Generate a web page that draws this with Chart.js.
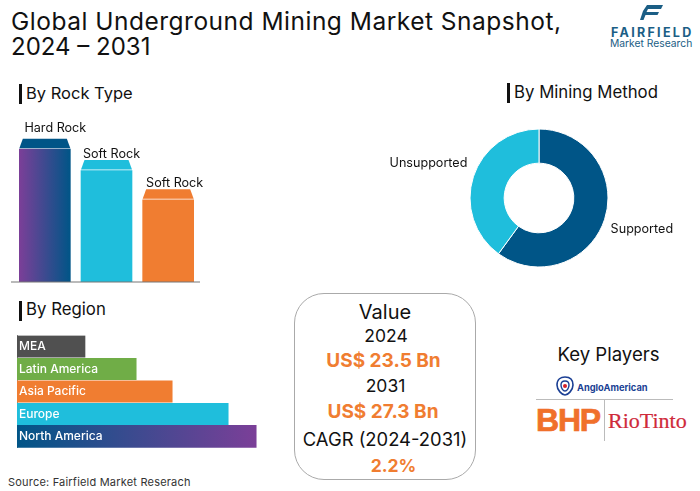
<!DOCTYPE html>
<html>
<head>
<meta charset="utf-8">
<script src="https://cdn.jsdelivr.net/npm/chart.js@4"></script>
<style>
  html, body { margin: 0; padding: 0; background: #fff; }
  #page { position: relative; width: 700px; height: 491px; overflow: hidden; font-family: Inter, sans-serif; color: #111; }
  #page canvas { position: absolute; }
  .t { position: absolute; white-space: nowrap; line-height: 1; }
  .c { transform: translateX(-50%); }
  .mark { position: absolute; width: 3px; height: 20px; background: #111; }
  .org { color: #F07D31; font-weight: 700; }
  #box { position: absolute; left: 294px; top: 293px; width: 180px; height: 185px; border: 1px solid #aaa; border-radius: 30px; }
  .rule { position: absolute; background: #bbb; }
</style>
</head>
<body>
<div id="page">
  <div class="t" style="left:11px;top:9px;font-size:24.5px;letter-spacing:.5px">Global Underground Mining Market Snapshot,</div>
  <div class="t" style="left:11px;top:35px;font-size:24px">2024 – 2031</div>

  <svg style="position:absolute;left:640px;top:5px" width="24" height="19" viewBox="0 0 24 19">
    <path d="M7 0H23L21 4H8L6.5 7H19L17.5 10H5.5L3.5 15H0L3 6Z" fill="#1B5E85"/>
  </svg>
  <div class="t" style="left:611px;top:27px;font-size:12.5px;font-weight:700;letter-spacing:2.3px;color:#1B5E85">FAIRFIELD</div>
  <div class="t" style="left:610px;top:38px;font-size:10.3px;color:#1B5E85">Market Research</div>

  <div class="mark" style="left:19px;top:84px"></div>
  <div class="t" style="left:26px;top:85px;font-size:16.5px">By Rock Type</div>
  <div class="mark" style="left:507px;top:83px"></div>
  <div class="t" style="left:514px;top:84px;font-size:16.8px">By Mining Method</div>
  <div class="mark" style="left:19px;top:301px"></div>
  <div class="t" style="left:26px;top:301px;font-size:16.8px">By Region</div>

  <canvas id="rockChart" style="left:11px;top:100px;width:200px;height:183px"></canvas>
  <canvas id="methodChart" style="left:380px;top:119px;width:318px;height:158px"></canvas>
  <canvas id="regionChart" style="left:16px;top:326px;width:241px;height:134px"></canvas>

  <div id="box"></div>
  <div class="t c" style="left:385px;top:302px;font-size:20px">Value</div>
  <div class="t c" style="left:386px;top:327px;font-size:17.5px">2024</div>
  <div class="t c org" style="left:383.5px;top:351px;font-size:19px">US$ 23.5 Bn</div>
  <div class="t c" style="left:385.5px;top:377px;font-size:17.5px">2031</div>
  <div class="t c org" style="left:383px;top:402px;font-size:19px">US$ 27.3 Bn</div>
  <div class="t c" style="left:385px;top:430px;font-size:18.4px">CAGR (2024-2031)</div>
  <div class="t c org" style="left:393.5px;top:457px;font-size:17.5px">2.2%</div>

  <div class="t c" style="left:608.5px;top:345px;font-size:18.6px">Key Players</div>
  <svg style="position:absolute;left:555px;top:376px" width="20" height="20" viewBox="0 0 20 20">
    <path d="M10 1C14 1 18 3 18 9C18 14 13 19 10 19C7 19 2 14 2 9C2 3 6 1 10 1Z" fill="none" stroke="#1B3F94" stroke-width="1.6"/>
    <path d="M10 5C12 5 14 6 14 9C14 12 12 15 10 15C8 15 6 12 6 9C6 6 8 5 10 5Z" fill="none" stroke="#1B3F94" stroke-width="1.4"/>
    <circle cx="10" cy="10" r="2" fill="#D8232A"/>
  </svg>
  <div class="t" style="left:577px;top:383px;font-size:9.3px;font-weight:700;color:#1B3F94">AngloAmerican</div>
  <div class="rule" style="left:536px;top:399px;width:137px;height:1px"></div>
  <div class="rule" style="left:604px;top:400px;width:1px;height:41px"></div>
  <div class="t" style="left:536px;top:404px;font-family:'Liberation Sans';font-size:32px;font-weight:700;color:#F0702B;letter-spacing:-1.2px;-webkit-text-stroke:.7px #F0702B">BHP</div>
  <div class="t" style="left:608px;top:410px;font-family:'Liberation Serif';font-size:22px;color:#CF2A3A;-webkit-text-stroke:.2px #CF2A3A">RioTinto</div>

  <div class="t" style="left:8px;top:477px;font-size:11px;color:#333;letter-spacing:.2px">Source: Fairfield Market Reserach</div>
</div>

<script>
// values
const rockTypes = ['Hard Rock', 'Soft Rock', 'Soft Rock']
const rockValues = [36.5, 30.6, 22.6]

const miningMethods = ['Supported', 'Unsupported']
const miningValues = [60, 40]

const regions = ['MEA', 'Latin America', 'Asia Pacific', 'Europe', 'North America']
const regionValues = [8.5, 14.9, 19.4, 26.4, 29.9]

const blue = '#005587', purple = '#7B3F98', cyan = '#1FBEDC', orange = '#F07D31'
const green = '#70AD47', grey = '#505050'
const labelFont = '400 12.6px Inter, sans-serif'

const rockCaps = [blue, cyan, orange]
const rockBarWidth = 51
// label shift from the bar centre / bar top, the labels do not sit centred in the original
const rockLabelShift = [[10.5, -17], [5, -13], [6.5, -12.5]]

function gradient(chart, x0, x1, from, to) {
    if (!Number.isFinite(x0) || !Number.isFinite(x1)) return from
    const g = chart.ctx.createLinearGradient(x0, 0, x1, 0)
    g.addColorStop(0, from)
    g.addColorStop(1, to)
    return g
}

const rockCapsPlugin = {
    id: 'rockCaps',
    afterDatasetsDraw(chart) {
        const {ctx, scales} = chart
        ctx.save()
        ctx.strokeStyle = '#777'
        ctx.lineWidth = 1.2
        ctx.beginPath()
        ctx.moveTo(0, scales.y.bottom)
        ctx.lineTo(scales.x.right + 1, scales.y.bottom)
        ctx.stroke()
        chart.getDatasetMeta(0).data.forEach((bar, i) => {
            const left = bar.x - bar.width / 2, right = bar.x + bar.width / 2
            ctx.fillStyle = rockCaps[i]
            ctx.beginPath()
            ctx.moveTo(left, bar.y - 1)
            ctx.lineTo(left + 3.5, bar.y - 10.5)
            ctx.lineTo(right - 3.5, bar.y - 10.5)
            ctx.lineTo(right, bar.y - 1)
            ctx.closePath()
            ctx.fill()
            ctx.fillStyle = '#111'
            ctx.font = labelFont
            ctx.textAlign = 'center'
            ctx.fillText(rockTypes[i], bar.x + rockLabelShift[i][0], bar.y + rockLabelShift[i][1])
        })
        ctx.restore()
    }
}

new Chart(document.getElementById('rockChart'), {
    type: 'bar',
    data: {
        labels: rockTypes,
        datasets: [{
            data: rockValues,
            barThickness: rockBarWidth,
            backgroundColor: (ctx) => {
                if (ctx.dataIndex !== 0) return rockCaps[ctx.dataIndex]
                const mid = ctx.chart.scales.x.getPixelForValue(0)
                return gradient(ctx.chart, mid - rockBarWidth / 2, mid + rockBarWidth / 2, purple, blue)
            }
        }]
    },
    options: {
        responsive: false,
        animation: false,
        layout: {padding: {left: 3, right: 12, bottom: 1}},
        plugins: {legend: {display: false}, tooltip: {enabled: false}},
        scales: {
            x: {display: false},
            y: {display: false, min: 0, max: 50}
        }
    },
    plugins: [rockCapsPlugin]
})

const methodLabelsPlugin = {
    id: 'methodLabels',
    afterDatasetsDraw(chart) {
        const {ctx} = chart
        const offsets = [[6, 14, 'left'], [-6, -10, 'right']]
        ctx.save()
        ctx.fillStyle = '#111'
        ctx.font = labelFont
        chart.getDatasetMeta(0).data.forEach((arc, i) => {
            const mid = (arc.startAngle + arc.endAngle) / 2
            ctx.textAlign = offsets[i][2]
            ctx.fillText(
                miningMethods[i],
                arc.x + Math.cos(mid) * arc.outerRadius + offsets[i][0],
                arc.y + Math.sin(mid) * arc.outerRadius + offsets[i][1]
            )
        })
        ctx.restore()
    }
}

new Chart(document.getElementById('methodChart'), {
    type: 'doughnut',
    data: {
        labels: miningMethods,
        datasets: [{
            data: miningValues,
            backgroundColor: [blue, cyan],
            borderColor: '#fff',
            borderWidth: 1
        }]
    },
    options: {
        responsive: false,
        animation: false,
        radius: 69,
        cutout: '50.5%',
        plugins: {legend: {display: false}, tooltip: {enabled: false}}
    },
    plugins: [methodLabelsPlugin]
})

// the last bar is drawn thicker than the others in the original
const regionLastBarPlugin = {
    id: 'regionLastBar',
    afterDatasetsUpdate(chart) {
        const bars = chart.getDatasetMeta(0).data
        const last = bars[bars.length - 1]
        last.height = 25
        last.y += 1.3
    }
}

new Chart(document.getElementById('regionChart'), {
    type: 'bar',
    data: {
        labels: regions,
        datasets: [{
            data: regionValues,
            barThickness: 21.3,
            backgroundColor: (ctx) => {
                if (ctx.dataIndex !== 4) return [grey, green, orange, cyan][ctx.dataIndex]
                const x = ctx.chart.scales.x
                return gradient(ctx.chart, x.getPixelForValue(0), x.getPixelForValue(regionValues[4]), blue, purple)
            }
        }]
    },
    options: {
        indexAxis: 'y',
        responsive: false,
        animation: false,
        layout: {padding: {top: 8.3, bottom: 12.2}},
        plugins: {legend: {display: false}, tooltip: {enabled: false}},
        scales: {
            x: {display: false, min: 0, max: 30},
            y: {
                grid: {display: false, drawTicks: false},
                border: {color: '#888', width: 1},
                afterFit(axis) { axis.width = 1 },
                ticks: {mirror: true, z: 1, padding: 2, color: '#fff', font: {family: 'Inter, sans-serif', size: 12, weight: '500'}}
            }
        }
    },
    plugins: [regionLastBarPlugin]
})
</script>
</body>
</html>
